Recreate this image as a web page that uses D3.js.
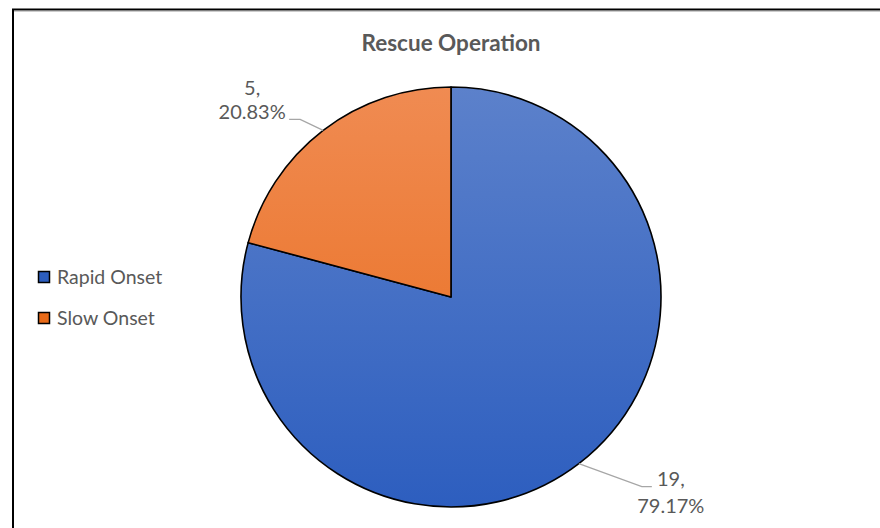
<!DOCTYPE html>
<html><head><meta charset="utf-8">
<script src="https://cdn.jsdelivr.net/npm/d3@7"></script>
<style>body{margin:0;background:#fff;}svg{display:block;}</style>
</head><body>
<svg id="chart" width="880" height="528"></svg>
<script>
const categories = ["Rapid Onset", "Slow Onset"];
const values = [19, 5];
const percentLabels = ["79.17%", "20.83%"];
const title = "Rescue Operation";

const svg = d3.select("#chart");
const cx = 451, cy = 297, R = 210;
const font = "Lato, 'Open Sans', sans-serif";

// chart border (extends past window to right/bottom)
svg.append("rect").attr("x", 13).attr("y", 9.5).attr("width", 900).attr("height", 560)
  .attr("fill", "#fff").attr("stroke", "#000").attr("stroke-width", 2);
svg.append("line").attr("x1", 14).attr("x2", 900).attr("y1", 11.5).attr("y2", 11.5)
  .attr("stroke", "#ccc").attr("stroke-width", 1);

const defs = svg.append("defs");
const gradStops = [
  ["#5c81cb", "#2d5ebf"],
  ["#f08b52", "#e86a18"]
];
gradStops.forEach((s, i) => {
  const gr = defs.append("linearGradient").attr("id", "g" + i)
    .attr("gradientUnits", "userSpaceOnUse")
    .attr("x1", 0).attr("x2", 0).attr("y1", -R).attr("y2", R);
  gr.append("stop").attr("offset", "0%").attr("stop-color", s[0]);
  gr.append("stop").attr("offset", "100%").attr("stop-color", s[1]);
});

svg.append("text").attr("x", cx).attr("y", 51).attr("text-anchor", "middle")
  .attr("font-family", font).attr("font-weight", "bold").attr("font-size", 22.5)
  .attr("fill", "#595959").text(title);

const pie = d3.pie().sort(null).value(d => d);
const arcs = pie(values);
const arc = d3.arc().innerRadius(0).outerRadius(R);

const g = svg.append("g").attr("transform", `translate(${cx},${cy})`);
g.selectAll("path.slice").data(arcs).enter().append("path")
  .attr("class", "slice")
  .attr("d", arc)
  .attr("fill", (d, i) => `url(#g${i})`)
  .attr("stroke", "#000").attr("stroke-width", 1.6)
  .attr("stroke-linejoin", "round");

// data labels with leader lines
const labelCfg = [
  { elbow: [63, 23], tail: 10, dx: 19, dy1: -1, dy2: 26 },    // Rapid Onset
  { elbow: [-23, -11], tail: -11, dx: -37, dy1: -24, dy2: 0 } // Slow Onset
];
arcs.forEach((d, i) => {
  const a = (d.startAngle + d.endAngle) / 2;
  const px = Math.sin(a) * R, py = -Math.cos(a) * R;
  const c = labelCfg[i];
  const ex = px + c.elbow[0], ey = py + c.elbow[1];
  const tx = ex + c.tail;
  g.append("polyline")
    .attr("points", `${px},${py} ${ex},${ey} ${tx},${ey}`)
    .attr("fill", "none").attr("stroke", "#a6a6a6").attr("stroke-width", 1.3);
  const lx = tx + c.dx;
  const t = g.append("text").attr("text-anchor", "middle")
    .attr("font-family", font).attr("font-size", 20).attr("fill", "#595959");
  t.append("tspan").attr("x", lx).attr("y", ey + c.dy1).text(values[i] + ",");
  t.append("tspan").attr("x", lx).attr("y", ey + c.dy2).text(percentLabels[i]);
});

// legend
const leg = svg.append("g");
categories.forEach((c, i) => {
  const y = 277 + i * 41;
  leg.append("rect").attr("x", 38.5).attr("y", y - 5.5).attr("width", 11).attr("height", 11)
    .attr("fill", gradStops[i][1]).attr("stroke", "#000").attr("stroke-width", 1.5);
  leg.append("text").attr("x", 57).attr("y", y + 7).attr("font-family", font)
    .attr("font-size", 19.5).attr("fill", "#595959").text(c);
});
</script>
</body></html>
